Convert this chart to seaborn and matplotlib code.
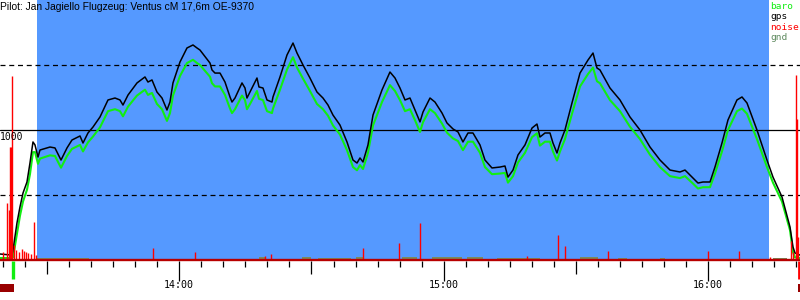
import numpy as np
import pandas as pd
import matplotlib
matplotlib.use("Agg")
import matplotlib.pyplot as plt
import seaborn as sns

# ---------------- data (time = minutes after midnight, altitude = m) ----------------
title = "Pilot: Jan Jagiello Flugzeug: Ventus cM 17,6m OE-9370"

t_track = [799.34, 802.06, 802.29, 803.19, 803.87, 804.56, 805.46, 806.14, 806.82, 807.28,
           807.96, 808.41, 810.68, 811.81, 813.18, 814.54, 815.67, 817.49, 818.17, 819.30,
           820.44, 822.02, 823.84, 825.43, 826.56, 827.24, 828.38, 830.42, 832.23, 832.91,
           833.82, 834.95, 836.09, 837.22, 837.90, 838.58, 840.17, 841.76, 843.12, 844.03,
           844.71, 846.98, 847.43, 848.11, 849.25, 850.38, 851.52, 851.97, 852.65, 854.24,
           854.92, 855.37, 856.05, 857.64, 858.09, 859.00, 859.91, 861.04, 861.27, 862.86,
           864.45, 865.81, 866.72, 868.08, 869.66, 871.25, 872.61, 873.75, 874.88, 876.47,
           878.06, 879.42, 880.33, 881.01, 881.69, 882.82, 883.96, 886.00, 887.81, 888.95,
           890.08, 891.22, 892.35, 893.49, 894.62, 895.30, 896.89, 898.02, 899.61, 900.74,
           902.11, 903.24, 904.37, 905.51, 906.64, 908.23, 909.36, 910.95, 912.77, 913.90,
           914.58, 915.72, 916.85, 918.44, 920.03, 921.16, 921.84, 922.98, 924.11, 924.79,
           925.70, 926.38, 927.51, 929.10, 930.92, 932.73, 933.87, 934.77, 935.45, 937.72,
           939.99, 942.26, 944.53, 946.80, 949.07, 951.34, 953.60, 954.74, 956.33, 957.69,
           958.82, 960.41, 961.54, 963.13, 964.49, 966.53, 967.67, 968.80, 971.07, 973.34,
           974.70, 976.74, 978.56, 979.24, 979.69, 980.83]

gps_alt = [46, 38, 77, 285, 408, 515, 600, 746, 908, 885,
           792, 846, 869, 862, 769, 862, 923, 954, 900, 977,
           1023, 1100, 1231, 1246, 1231, 1192, 1269, 1362, 1408, 1369,
           1385, 1292, 1246, 1154, 1215, 1362, 1523, 1631, 1654, 1631,
           1615, 1515, 1462, 1438, 1438, 1369, 1254, 1215, 1246, 1362,
           1323, 1246, 1292, 1400, 1331, 1323, 1231, 1215, 1254, 1408,
           1577, 1669, 1592, 1500, 1400, 1292, 1246, 1192, 1115, 1038,
           908, 769, 746, 785, 754, 885, 1115, 1308, 1446, 1400,
           1323, 1231, 1246, 1154, 1062, 1138, 1246, 1215, 1131, 1054,
           1008, 985, 908, 977, 977, 885, 769, 708, 715, 723,
           638, 692, 808, 885, 1015, 1046, 946, 977, 977, 900,
           823, 900, 1000, 1208, 1438, 1538, 1592, 1477, 1462, 1323,
           1231, 1100, 1000, 869, 769, 692, 677, 692, 638, 592,
           600, 600, 715, 900, 1077, 1231, 1254, 1208, 1000, 769,
           638, 485, 254, 100, 54, 38]

baro_alt = [15, 15, 20, 200, 340, 450, 540, 660, 830, 830,
            740, 780, 805, 800, 710, 800, 855, 885, 835, 905,
            950, 1020, 1145, 1160, 1145, 1105, 1180, 1265, 1310, 1270,
            1285, 1200, 1160, 1070, 1130, 1265, 1415, 1515, 1540, 1515,
            1500, 1410, 1360, 1335, 1335, 1270, 1165, 1130, 1160, 1265,
            1230, 1160, 1200, 1300, 1240, 1230, 1145, 1130, 1165, 1310,
            1465, 1560, 1480, 1395, 1300, 1200, 1160, 1110, 1035, 965,
            845, 715, 690, 730, 700, 825, 1035, 1215, 1345, 1300,
            1230, 1145, 1160, 1075, 985, 1060, 1160, 1130, 1050, 980,
            935, 915, 845, 910, 910, 825, 715, 660, 665, 670,
            595, 645, 750, 825, 945, 975, 880, 910, 910, 835,
            765, 835, 930, 1125, 1335, 1430, 1480, 1375, 1360, 1230,
            1145, 1025, 930, 810, 715, 645, 630, 645, 595, 550,
            560, 560, 665, 835, 1000, 1145, 1165, 1125, 930, 715,
            595, 450, 230, 60, 20, 15]

noise_t = [800.02, 800.93, 801.38, 801.61, 801.84, 802.06, 802.51, 802.97, 803.65, 804.33,
           804.78, 805.24, 805.69, 806.37, 807.05, 807.50, 834.05, 843.58, 859.46, 860.82,
           881.69, 889.85, 894.62, 918.89, 925.93, 927.51, 937.27, 959.95, 966.99, 974.02,
           978.78, 979.24, 979.92, 980.15, 980.37]
noise_val = [60, 438, 385, 869, 869, 1415, 115, 77, 62, 85,
             69, 62, 54, 46, 292, 38, 92, 62, 31, 46,
             92, 131, 285, 31, 192, 108, 69, 69, 69, 23,
             146, 62, 1423, 1085, 177]

gnd_t = [807.73, 819.53, 858.09, 859.68, 867.85, 869.89, 871.48, 878.97, 880.10, 881.92,
         890.54, 893.94, 897.34, 904.15, 905.28, 908.91, 912.09, 921.84, 930.92, 935.00,
         939.54, 941.58, 949.07, 950.20, 974.70, 977.88, 980.83]
gnd_alt = [18, 8, 20, 8, 20, 8, 14, 8, 26, 8,
           24, 8, 26, 8, 26, 8, 14, 8, 20, 8,
           16, 8, 16, 8, 18, 8, 8]

task_window = [807.73, 973.79]
takeoff_t = 802.4
landing_t = 980.6
engine_runs = [(799.34, 802.5), (980.4, 980.83)]

hour_ticks = [840, 900, 960]
hour_labels = ["14:00", "15:00", "16:00"]
alt_lines = [500, 1000, 1500]
alt_label = "1000"
legend_labels = ["baro", "gps", "noise", "gnd"]

# ---------------- style ----------------
sns.set_style("white")
plt.rcParams["font.family"] = ["DejaVu Sans"]

C_BLUE = "#5599ff"
C_BARO = "#11ee11"
C_GPS = "#000000"
C_NOISE = "#ff0000"
C_GND = "#7b8a5c"
C_BASE = "#b80000"

XMIN, XMAX = 799.34, 980.83
YMIN, YMAX = -307.7, 2000.0

fig = plt.figure(figsize=(8, 3), dpi=100)
ax = fig.add_axes([0, 0, 1, 1])
ax.set_xlim(XMIN, XMAX)
ax.set_ylim(YMIN, YMAX)
ax.set_axis_off()

# task window background
ax.fill_between(task_window, 0, YMAX, color=C_BLUE, lw=0, zorder=0)

# altitude reference lines
for a in alt_lines:
    ls = "-" if a == 1000 else (0, (4, 3))
    ax.axhline(a, color="black", lw=0.9, ls=ls, zorder=1)
ax.text(XMIN, 946, alt_label, family="DejaVu Sans Mono", fontsize=7,
        ha="left", va="center", color="black", zorder=6)

# ground elevation
ax.fill_between(gnd_t, 0, gnd_alt, step="post", color=C_GND, lw=0, zorder=2)

# altitude traces
df = pd.DataFrame({"t": t_track, "baro": baro_alt, "gps": gps_alt})
sns.lineplot(data=df, x="t", y="baro", ax=ax, color=C_BARO, lw=1.5,
             estimator=None, sort=False, legend=False, zorder=3)
sns.lineplot(data=df, x="t", y="gps", ax=ax, color=C_GPS, lw=1.1,
             estimator=None, sort=False, legend=False, zorder=4)
ax.set_axis_off()

# noise
ax.vlines(noise_t, 0, noise_val, color=C_NOISE, lw=1.0, zorder=5)

# baseline
ax.axhline(0, color=C_BASE, lw=1.7, zorder=5)

# time ticks
t5 = np.arange(800, 981, 5)
for t in t5:
    if t % 60 == 0:
        L = 150
    elif t % 30 == 0:
        L = 100
    else:
        L = 46
    ax.vlines(t, -8, -8 - L, color="black", lw=0.9, zorder=5)
for t, lab in zip(hour_ticks, hour_labels):
    ax.text(t, -192, lab, family="DejaVu Sans Mono", fontsize=7.2,
            ha="center", va="center", color="black")

# takeoff / landing markers and engine bar
ax.vlines(takeoff_t, -8, -146, color=C_BARO, lw=2.4, zorder=6)
ax.vlines(landing_t, -8, -146, color=C_NOISE, lw=2.0, zorder=6)
for a, b in engine_runs:
    ax.fill_between([a, b], -185, -246, color="#990000", lw=0, zorder=6)

# title and legend
fig.text(0.0, 1 - 7 / 300, title, fontsize=7.4, family="Liberation Sans",
         ha="left", va="center", color="black")
leg_colors = [C_BARO, C_GPS, C_NOISE, "#5f8a5f"]
for i, (lab, c) in enumerate(zip(legend_labels, leg_colors)):
    fig.text(770 / 800, 1 - (6.5 + 10.4 * i) / 300, lab, family="DejaVu Sans Mono",
             fontsize=6.8, color=c, ha="left", va="center")

fig.savefig("out.png", dpi=100, facecolor="white")
